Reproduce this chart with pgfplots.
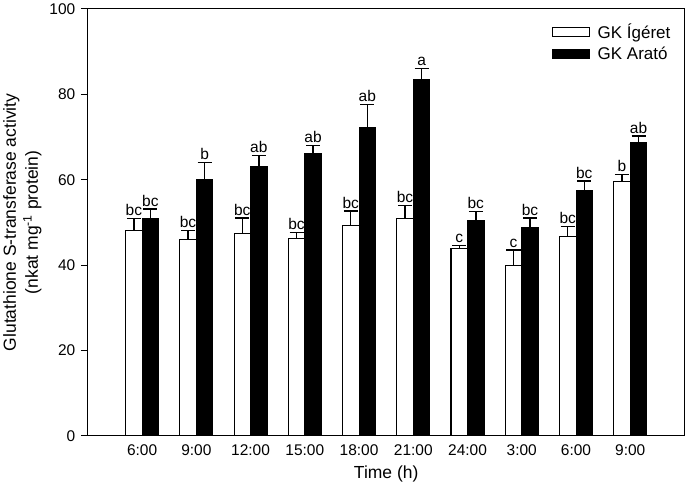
\documentclass[border=0pt]{standalone}
\usepackage{fontspec}
\setmainfont{Liberation Sans}
\usepackage{pgfplots}
\usepackage{pgfplotstable}
\pgfplotsset{compat=1.18}
\pgfplotstableread{
x   w     we   b     be   wl  bl
0   48.0  2.9  50.8  2.3  bc  bc
1   45.9  2.2  60.1  3.9  bc  b
2   47.4  3.6  63.0  2.7  bc  ab
3   46.3  1.4  66.1  1.9  bc  ab
4   49.3  3.4  72.1  5.5  bc  ab
5   50.9  3.1  83.4  2.6  bc  a
6   43.8  0.8  50.5  2.1  c   bc
7   39.9  3.6  48.7  2.3  c   bc
8   46.7  2.4  57.5  2.2  bc  bc
9   59.5  1.7  68.7  1.5  b   ab
}\datatable
\begin{document}
\begin{tikzpicture}
\begin{axis}[
  scale only axis,
  width=595bp, height=426bp,
  xmin=-1, xmax=10, ymin=0, ymax=100,
  xtick={0,...,9},
  xticklabels={6:00,9:00,12:00,15:00,18:00,21:00,24:00,3:00,6:00,9:00},
  x tick style={draw=none},
  ytick={0,20,...,100},
  ytick pos=left,
  tick align=outside,
  major tick length=7bp,
  /pgf/number format/assume math mode=true,
  ticklabel style={font=\fontsize{15.5}{17}\selectfont},
  yticklabel style={xshift=-2bp},
  xticklabel style={yshift=2bp},
  axis line style={line width=1bp},
  every tick/.style={line width=1bp, black},
  xlabel={Time (h)},
  ylabel={Glutathione S-transferase activity\\(nkat mg\textsuperscript{-1} protein)},
  ylabel style={align=center, font=\fontsize{17.5}{22}\selectfont, yshift=1bp},
  xlabel style={font=\fontsize{17.5}{20}\selectfont, yshift=-3bp},
  legend style={draw=none, fill=none, at={(0.985,0.975)}, anchor=north east,
    font=\fontsize{17}{19}\selectfont, row sep=3bp},
  legend cell align=left,
  legend image code/.code={\draw[#1, line width=1bp] (0bp,-4.5bp) rectangle (37bp,4.5bp); \path (43bp,0bp);},
  error bars/error bar style={line width=1.4bp, black},
  error bars/error mark options={rotate=90, mark size=7bp, line width=1.4bp, black},
]
\addplot[ybar, bar width=0.305, bar shift=0pt, draw=black, line width=1bp, fill=white,
  error bars/.cd, y dir=plus, y explicit]
  table[x expr=\thisrow{x}-0.1525, y=w, y error=we]{\datatable};
\addlegendentry{GK Ígéret}
\addplot[ybar, bar width=0.305, bar shift=0pt, draw=black, line width=1bp, fill=black,
  error bars/.cd, y dir=plus, y explicit]
  table[x expr=\thisrow{x}+0.1525, y=b, y error=be]{\datatable};
\addlegendentry{GK Arató}
\addplot[draw=none, mark=none, forget plot, point meta=explicit symbolic,
  nodes near coords, nodes near coords align={above},
  every node near coord/.append style={font=\fontsize{15.5}{17}\selectfont, inner sep=2.5bp, black}]
  table[x expr=\thisrow{x}-0.1525, y expr=\thisrow{w}+\thisrow{we}, meta=wl]{\datatable};
\addplot[draw=none, mark=none, forget plot, point meta=explicit symbolic,
  nodes near coords, nodes near coords align={above},
  every node near coord/.append style={font=\fontsize{15.5}{17}\selectfont, inner sep=2.5bp, black}]
  table[x expr=\thisrow{x}+0.1525, y expr=\thisrow{b}+\thisrow{be}, meta=bl]{\datatable};
\end{axis}
\end{tikzpicture}
\end{document}
